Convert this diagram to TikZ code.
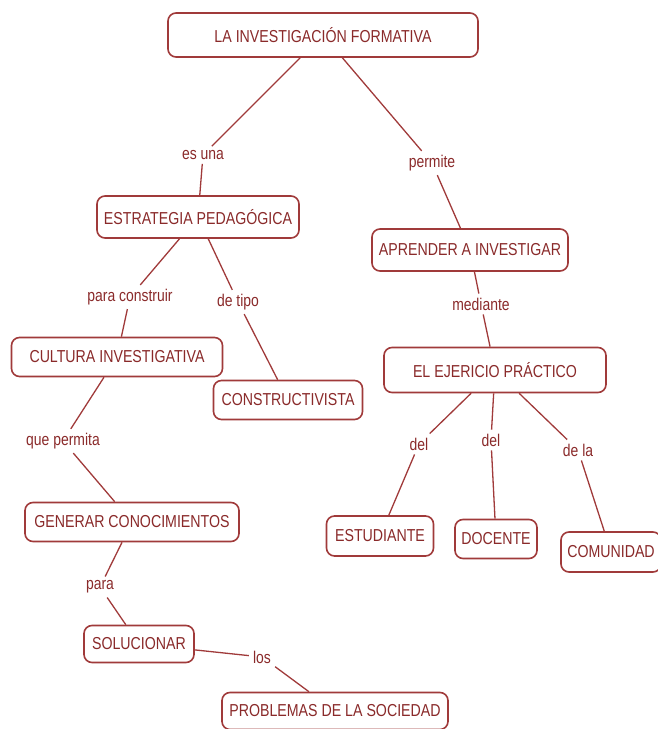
\documentclass[tikz,border=0pt]{standalone}
\usepackage{fontspec}
\setmainfont{Liberation Sans}[FakeStretch=0.82]
\definecolor{vino}{HTML}{A03A3A}
\definecolor{vinotexto}{HTML}{8A2A2A}

\begin{document}
\begin{tikzpicture}[x=1pt,y=-1pt,
	concepto/.style={draw=vino, line width=1.6pt, rounded corners=8pt, fill=white,
		text=vinotexto, minimum height=39pt, inner xsep=6pt,
		font=\fontsize{17.3}{19}\selectfont},
	enlace/.style={text=vinotexto, inner sep=4pt, font=\fontsize{17}{19}\selectfont},
	linea/.style={draw=vino, line width=1.3pt}]
		%%%%% START %%%%%
		\useasboundingbox (0,0) rectangle (658,729);
		
		% conceptos
		\node[concepto, minimum width=310pt, minimum height=44pt] (formativa) at (323, 35) {LA INVESTIGACIÓN FORMATIVA};
		\node[concepto, minimum width=202pt, minimum height=42pt] (estrategia) at (198, 217) {ESTRATEGIA PEDAGÓGICA};
		\node[concepto, minimum width=196pt, minimum height=42pt] (aprender) at (470, 250) {APRENDER A INVESTIGAR};
		\node[concepto, minimum width=211pt] (cultura) at (117, 357) {CULTURA INVESTIGATIVA};
		\node[concepto, minimum width=149pt] (constructivista) at (288, 400) {CONSTRUCTIVISTA};
		\node[concepto, minimum width=222pt, minimum height=45pt] (ejercicio) at (495, 370) {EL EJERICIO PRÁCTICO};
		\node[concepto, minimum width=214pt] (generar) at (132, 522) {GENERAR CONOCIMIENTOS};
		\node[concepto, minimum width=107pt, minimum height=40pt] (estudiante) at (380, 536) {ESTUDIANTE};
		\node[concepto, minimum width=82pt] (docente) at (496, 539) {DOCENTE};
		\node[concepto, minimum width=100pt, minimum height=40pt] (comunidad) at (611, 552) {COMUNIDAD};
		\node[concepto, minimum width=110pt, minimum height=37pt] (solucionar) at (139, 644) {SOLUCIONAR};
		\node[concepto, minimum width=226pt, minimum height=37pt] (problemas) at (335, 711) {PROBLEMAS DE LA SOCIEDAD};
		
		% enlaces
		\node[enlace] (esuna) at (203, 155) {es una};
		\node[enlace] (permite) at (432, 163) {permite};
		\node[enlace] (construir) at (130, 297) {para construir};
		\node[enlace] (detipo) at (238, 302) {de tipo};
		\node[enlace] (mediante) at (481, 304) {mediante};
		\node[enlace] (quepermita) at (63, 441) {que permita};
		\node[enlace] (delA) at (419, 444) {del};
		\node[enlace] (delB) at (491, 440) {del};
		\node[enlace] (dela) at (578, 450) {de la};
		\node[enlace] (para) at (100, 587) {para};
		\node[enlace] (los) at (262, 657) {los};
		
		% lineas
		\draw[linea] (formativa) -- (esuna) -- (estrategia);
		\draw[linea] (formativa) -- (permite) -- (aprender);
		\draw[linea] (estrategia) -- (construir) -- (cultura);
		\draw[linea] (estrategia) -- (detipo) -- (constructivista);
		\draw[linea] (aprender) -- (mediante) -- (ejercicio);
		\draw[linea] (cultura) -- (quepermita) -- (generar);
		\draw[linea] (ejercicio) -- (delA) -- (estudiante);
		\draw[linea] (ejercicio) -- (delB) -- (docente);
		\draw[linea] (ejercicio) -- (dela) -- (comunidad);
		\draw[linea] (generar) -- (para) -- (solucionar);
		\draw[linea] (solucionar) -- (los) -- (problemas);
		
		%%%%% END %%%%%
	\end{tikzpicture}
\end{document}
